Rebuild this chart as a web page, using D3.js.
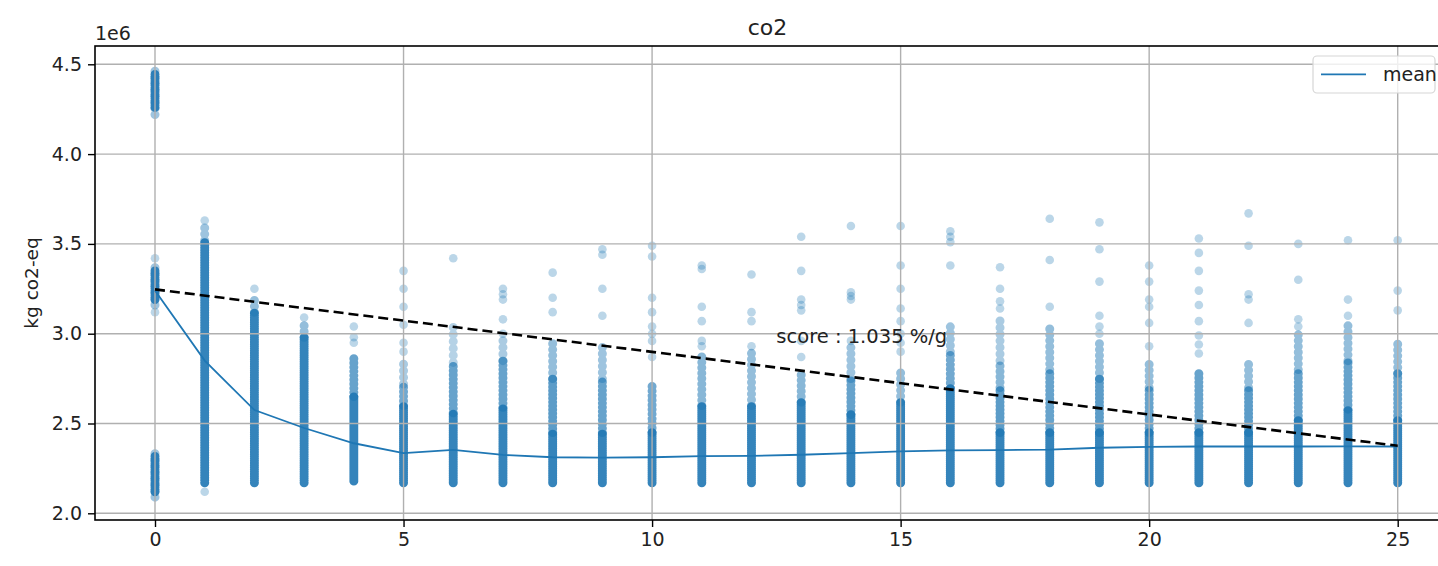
<!DOCTYPE html>
<html>
<head>
<meta charset="utf-8">
<script src="https://cdn.jsdelivr.net/npm/d3@7"></script>
<style>
body { margin: 0; background: #fff; }
svg { font-family: "DejaVu Sans", sans-serif; }
</style>
</head>
<body>
<svg id="chart" width="1438" height="566"></svg>
<script>
// values in units of 1e6 kg co2-eq
var gens = [0,1,2,3,4,5,6,7,8,9,10,11,12,13,14,15,16,17,18,19,20,21,22,23,24,25]
var meanCo2 = [3.24, 2.85, 2.575, 2.475, 2.39, 2.335, 2.353, 2.325, 2.312, 2.31, 2.312, 2.318, 2.32,
               2.326, 2.335, 2.345, 2.35, 2.352, 2.355, 2.365, 2.37, 2.372, 2.372, 2.372, 2.373, 2.372]
var trendX = [0, 25]
var trendY = [3.247, 2.376]
var xTicks = [0, 5, 10, 15, 20, 25]
var yTicks = [2.0, 2.5, 3.0, 3.5, 4.0, 4.5]

// dense runs of points: [gen, low, high, density]
var bands = [
  [0, 4.22, 4.48, 0.35], [0, 4.26, 4.45, 0.85],
  [0, 3.16, 3.38, 0.35], [0, 3.19, 3.35, 0.85],
  [0, 2.09, 2.35, 0.35], [0, 2.12, 2.32, 0.85],
  [1, 2.17, 3.52, 0.82], [1, 3.52, 3.6, 0.35],
  [2, 2.17, 3.12, 0.85], [2, 3.12, 3.2, 0.4],
  [3, 2.17, 2.98, 0.85], [3, 2.98, 3.05, 0.4],
  [4, 2.18, 2.65, 0.88], [4, 2.65, 2.88, 0.6],
  [5, 2.17, 2.6, 0.88], [5, 2.6, 2.72, 0.55], [5, 2.72, 2.85, 0.3],
  [6, 2.17, 2.56, 0.9], [6, 2.56, 2.84, 0.6], [6, 2.84, 3.07, 0.25],
  [7, 2.17, 2.59, 0.9], [7, 2.59, 2.85, 0.6], [7, 2.85, 2.97, 0.3],
  [8, 2.17, 2.45, 0.9], [8, 2.45, 2.75, 0.65], [8, 2.75, 2.95, 0.4],
  [9, 2.17, 2.45, 0.9], [9, 2.45, 2.75, 0.6], [9, 2.75, 2.95, 0.35],
  [10, 2.17, 2.45, 0.88], [10, 2.45, 2.73, 0.55],
  [11, 2.17, 2.6, 0.88], [11, 2.6, 2.9, 0.45],
  [12, 2.17, 2.6, 0.88], [12, 2.6, 2.9, 0.4],
  [13, 2.17, 2.62, 0.88], [13, 2.62, 2.8, 0.45],
  [14, 2.17, 2.55, 0.88], [14, 2.55, 2.75, 0.6], [14, 2.75, 2.93, 0.35],
  [15, 2.17, 2.62, 0.88], [15, 2.62, 2.8, 0.4],
  [16, 2.17, 2.7, 0.88], [16, 2.7, 2.9, 0.55], [16, 2.9, 3.05, 0.35],
  [17, 2.17, 2.45, 0.88], [17, 2.45, 2.7, 0.65], [17, 2.7, 2.85, 0.45], [17, 2.85, 3.1, 0.3],
  [18, 2.17, 2.45, 0.88], [18, 2.45, 2.8, 0.6], [18, 2.8, 3.03, 0.4],
  [19, 2.17, 2.45, 0.88], [19, 2.45, 2.75, 0.65], [19, 2.75, 2.95, 0.4],
  [20, 2.17, 2.45, 0.88], [20, 2.45, 2.7, 0.6], [20, 2.7, 2.84, 0.4],
  [21, 2.17, 2.45, 0.88], [21, 2.45, 2.78, 0.6],
  [22, 2.17, 2.45, 0.88], [22, 2.45, 2.7, 0.65], [22, 2.7, 2.86, 0.4],
  [23, 2.17, 2.52, 0.88], [23, 2.52, 2.8, 0.6], [23, 2.8, 3.0, 0.4],
  [24, 2.17, 2.58, 0.88], [24, 2.58, 2.85, 0.6], [24, 2.85, 3.07, 0.4],
  [25, 2.17, 2.52, 0.88], [25, 2.52, 2.78, 0.6], [25, 2.78, 2.96, 0.4]
]

// loose points above the runs: [gen, value]
var loose = [
  [0, 3.12], [0, 3.42],
  [1, 2.12], [1, 3.63],
  [2, 3.25],
  [3, 3.09],
  [4, 2.95], [4, 2.98], [4, 3.04],
  [5, 2.9], [5, 2.95], [5, 3.05], [5, 3.15], [5, 3.25], [5, 3.35],
  [6, 3.42],
  [7, 3.0], [7, 3.08], [7, 3.19], [7, 3.22], [7, 3.25],
  [8, 3.12], [8, 3.2], [8, 3.34],
  [9, 3.1], [9, 3.25], [9, 3.44], [9, 3.47],
  [10, 2.87], [10, 2.96], [10, 3.0], [10, 3.04], [10, 3.12], [10, 3.2], [10, 3.43], [10, 3.49],
  [11, 2.93], [11, 2.96], [11, 3.07], [11, 3.15], [11, 3.36], [11, 3.38],
  [12, 2.93], [12, 3.07], [12, 3.12], [12, 3.33],
  [13, 2.87], [13, 2.96], [13, 3.13], [13, 3.16], [13, 3.19], [13, 3.35], [13, 3.54],
  [14, 2.96], [14, 3.19], [14, 3.21], [14, 3.23], [14, 3.6],
  [15, 2.9], [15, 2.95], [15, 3.0], [15, 3.07], [15, 3.14], [15, 3.25], [15, 3.38], [15, 3.6],
  [16, 3.38], [16, 3.51], [16, 3.54], [16, 3.57],
  [17, 3.14], [17, 3.18], [17, 3.25], [17, 3.37],
  [18, 3.15], [18, 3.41], [18, 3.64],
  [19, 3.0], [19, 3.04], [19, 3.1], [19, 3.29], [19, 3.47], [19, 3.62],
  [20, 2.93], [20, 3.06], [20, 3.15], [20, 3.19], [20, 3.29], [20, 3.38],
  [21, 2.89], [21, 2.94], [21, 2.99], [21, 3.07], [21, 3.16], [21, 3.24], [21, 3.35], [21, 3.45], [21, 3.53],
  [22, 3.06], [22, 3.19], [22, 3.22], [22, 3.49], [22, 3.67],
  [23, 3.04], [23, 3.08], [23, 3.3], [23, 3.5],
  [24, 3.1], [24, 3.19], [24, 3.52],
  [25, 3.13], [25, 3.24], [25, 3.52]
]

var blue = '#1f77b4'
var svg = d3.select('#chart')

var axLeft = 95, axRight = 1440, axTop = 46, axBottom = 520

var x = d3.scaleLinear().domain([0, 25]).range([155, 1397.7])
var y = d3.scaleLinear().domain([2, 4.5]).range([513.3, 64.3])

var plot = svg.append('g')

// runs of markers: each run is a stroke of round dots, sparser when lighter
plot.selectAll('line.band').data(bands).enter().append('line')
    .attr('class', 'band')
    .attr('x1', function(d){return x(d[0])})
    .attr('x2', function(d){return x(d[0])})
    .attr('y1', function(d){return y(d[1])})
    .attr('y2', function(d){return y(d[2])})
    .attr('stroke', blue)
    .attr('stroke-width', 9)
    .attr('stroke-linecap', 'round')
    .attr('stroke-dasharray', function(d){return '0,' + Math.max(1.5, 2 + (0.88 - d[3]) * 8).toFixed(1)})
    .attr('stroke-opacity', function(d){return Math.min(0.9, d[3] + 0.08)})

plot.selectAll('circle').data(loose).enter().append('circle')
    .attr('cx', function(d){return x(d[0])})
    .attr('cy', function(d){return y(d[1])})
    .attr('r', 4.3)
    .attr('fill', blue)
    .attr('fill-opacity', 0.3)

// grid sits above the scatter, like the original
var grid = svg.append('g').attr('stroke', '#b0b0b0').attr('stroke-width', 1.4)
grid.selectAll('line.gx').data(xTicks).enter().append('line')
    .attr('class', 'gx')
    .attr('x1', function(d){return x(d)}).attr('x2', function(d){return x(d)})
    .attr('y1', axTop).attr('y2', axBottom)
grid.selectAll('line.gy').data(yTicks).enter().append('line')
    .attr('class', 'gy')
    .attr('x1', axLeft).attr('x2', axRight)
    .attr('y1', function(d){return y(d)}).attr('y2', function(d){return y(d)})

// mean line
var line = d3.line().x(function(d, i){return x(gens[i])}).y(function(d){return y(d)})
svg.append('path').datum(meanCo2)
    .attr('d', line)
    .attr('fill', 'none')
    .attr('stroke', blue)
    .attr('stroke-width', 1.8)

// trend dashed line
svg.append('path').datum(trendY)
    .attr('d', d3.line().x(function(d, i){return x(trendX[i])}).y(function(d){return y(d)}))
    .attr('fill', 'none')
    .attr('stroke', '#000')
    .attr('stroke-width', 2.6)
    .attr('stroke-dasharray', '10,5')

svg.append('text')
    .attr('x', x(12.5)).attr('y', y(2.95))
    .attr('font-size', 19.5).attr('fill', '#222')
    .text('score : 1.035 %/g')

// spines
svg.append('rect')
    .attr('x', axLeft).attr('y', axTop)
    .attr('width', axRight - axLeft).attr('height', axBottom - axTop)
    .attr('fill', 'none').attr('stroke', '#000').attr('stroke-width', 1.6)

// axes
var xAxis = d3.axisBottom(x).tickValues(xTicks).tickSize(7).tickPadding(6).tickFormat(d3.format('d'))
var gx = svg.append('g').attr('transform', 'translate(0,' + axBottom + ')').call(xAxis)
var yAxis = d3.axisLeft(y).tickValues(yTicks).tickSize(7).tickPadding(6).tickFormat(d3.format('.1f'))
var gy = svg.append('g').attr('transform', 'translate(' + axLeft + ',0)').call(yAxis)
;[gx, gy].forEach(function(g) {
    g.select('.domain').remove()
    g.selectAll('.tick line').attr('stroke', '#000').attr('stroke-width', 1.4)
    g.selectAll('.tick text').attr('font-size', 19).attr('fill', '#222')
        .attr('font-family', '"DejaVu Sans", sans-serif')
})

svg.append('text')
    .attr('x', axLeft).attr('y', 40)
    .attr('font-size', 19).attr('fill', '#222')
    .text('1e6')

svg.append('text')
    .attr('transform', 'translate(38,' + ((axTop + axBottom) / 2) + ') rotate(-90)')
    .attr('text-anchor', 'middle')
    .attr('font-size', 18.5).attr('fill', '#222')
    .text('kg co2-eq')

svg.append('text')
    .attr('x', (axLeft + axRight) / 2).attr('y', 35)
    .attr('text-anchor', 'middle')
    .attr('font-size', 22).attr('fill', '#222')
    .text('co2')

// legend
var leg = svg.append('g')
leg.append('rect')
    .attr('x', 1313).attr('y', 56).attr('width', 122).attr('height', 37).attr('rx', 4)
    .attr('fill', '#fff').attr('fill-opacity', 0.8)
    .attr('stroke', '#d6d6d6').attr('stroke-width', 1.2)
leg.append('line')
    .attr('x1', 1321).attr('x2', 1366).attr('y1', 74.3).attr('y2', 74.3)
    .attr('stroke', blue).attr('stroke-width', 1.8)
leg.append('text')
    .attr('x', 1383).attr('y', 81)
    .attr('font-size', 19).attr('fill', '#222')
    .text('mean')
</script>
</body>
</html>
